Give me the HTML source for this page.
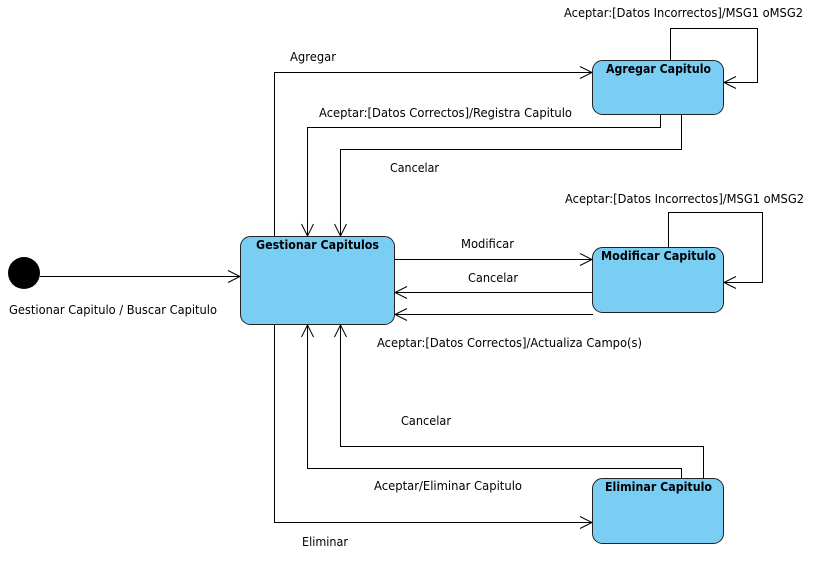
<!DOCTYPE html>
<html><head><meta charset="utf-8"><style>
html,body{margin:0;padding:0;background:#fff;width:820px;height:562px;overflow:hidden}
text{font-family:"DejaVu Sans","Liberation Sans",sans-serif;font-size:12px;fill:#000}
.b{font-weight:bold}
</style></head><body>
<svg width="820" height="562" viewBox="0 0 820 562" xmlns="http://www.w3.org/2000/svg">
<g fill="#7ACEF4" stroke="#222" stroke-width="1">
<rect x="240.5" y="236.5" width="154" height="88" rx="10"/>
<rect x="592.5" y="60.5" width="131" height="54" rx="10"/>
<rect x="592.5" y="247.5" width="131" height="65" rx="10"/>
<rect x="592.5" y="478.5" width="131" height="65" rx="10"/>
</g>
<circle cx="24" cy="273" r="16" fill="#000"/>
<g fill="none" stroke="#000" stroke-width="1">
<path d="M40 276.5H240"/><path d="M228 270.5L240 276.5L228 282.5"/>
<path d="M274.5 236V72.5H592"/><path d="M580 66.5L592 72.5L580 78.5"/>
<path d="M670.5 60V28.5H757.5V82.5H724"/><path d="M736 76.5L724 82.5L736 88.5"/>
<path d="M660.5 115V127.5H307.5V236"/><path d="M301.5 224L307.5 236L313.5 224"/>
<path d="M681.5 115V149.5H340.5V236"/><path d="M334.5 224L340.5 236L346.5 224"/>
<path d="M395 259.5H592"/><path d="M580 253.5L592 259.5L580 265.5"/>
<path d="M668.5 247V212.5H762.5V282.5H724"/><path d="M736 276.5L724 282.5L736 288.5"/>
<path d="M592 292.5H395"/><path d="M407 286.5L395 292.5L407 298.5"/>
<path d="M593 314.5H395"/><path d="M407 308.5L395 314.5L407 320.5"/>
<path d="M274.5 325V522.5H592"/><path d="M580 516.5L592 522.5L580 528.5"/>
<path d="M681.5 478V468.5H307.5V325"/><path d="M301.5 337L307.5 325L313.5 337"/>
<path d="M703.5 478V446.5H340.5V325"/><path d="M334.5 337L340.5 325L346.5 337"/>
</g>
<text class="b" x="256" y="249" textLength="123" lengthAdjust="spacingAndGlyphs">Gestionar Capitulos</text>
<text class="b" x="606" y="73" textLength="105" lengthAdjust="spacingAndGlyphs">Agregar Capitulo</text>
<text class="b" x="601" y="260" textLength="115" lengthAdjust="spacingAndGlyphs">Modificar Capitulo</text>
<text class="b" x="605" y="491" textLength="107" lengthAdjust="spacingAndGlyphs">Eliminar Capitulo</text>
<text x="290" y="61" textLength="46" lengthAdjust="spacingAndGlyphs">Agregar</text>
<text x="319" y="117" textLength="253" lengthAdjust="spacingAndGlyphs">Aceptar:[Datos Correctos]/Registra Capitulo</text>
<text x="390" y="172" textLength="49" lengthAdjust="spacingAndGlyphs">Cancelar</text>
<text x="564" y="17" textLength="239" lengthAdjust="spacingAndGlyphs">Aceptar:[Datos Incorrectos]/MSG1 oMSG2</text>
<text x="565" y="203" textLength="239" lengthAdjust="spacingAndGlyphs">Aceptar:[Datos Incorrectos]/MSG1 oMSG2</text>
<text x="461" y="248" textLength="53" lengthAdjust="spacingAndGlyphs">Modificar</text>
<text x="468" y="282" textLength="50" lengthAdjust="spacingAndGlyphs">Cancelar</text>
<text x="377" y="347" textLength="265" lengthAdjust="spacingAndGlyphs">Aceptar:[Datos Correctos]/Actualiza Campo(s)</text>
<text x="401" y="425" textLength="50" lengthAdjust="spacingAndGlyphs">Cancelar</text>
<text x="374" y="490" textLength="148" lengthAdjust="spacingAndGlyphs">Aceptar/Eliminar Capitulo</text>
<text x="302" y="546" textLength="46" lengthAdjust="spacingAndGlyphs">Eliminar</text>
<text x="9" y="314" textLength="208" lengthAdjust="spacingAndGlyphs">Gestionar Capitulo / Buscar Capitulo</text>
</svg>
</body></html>
